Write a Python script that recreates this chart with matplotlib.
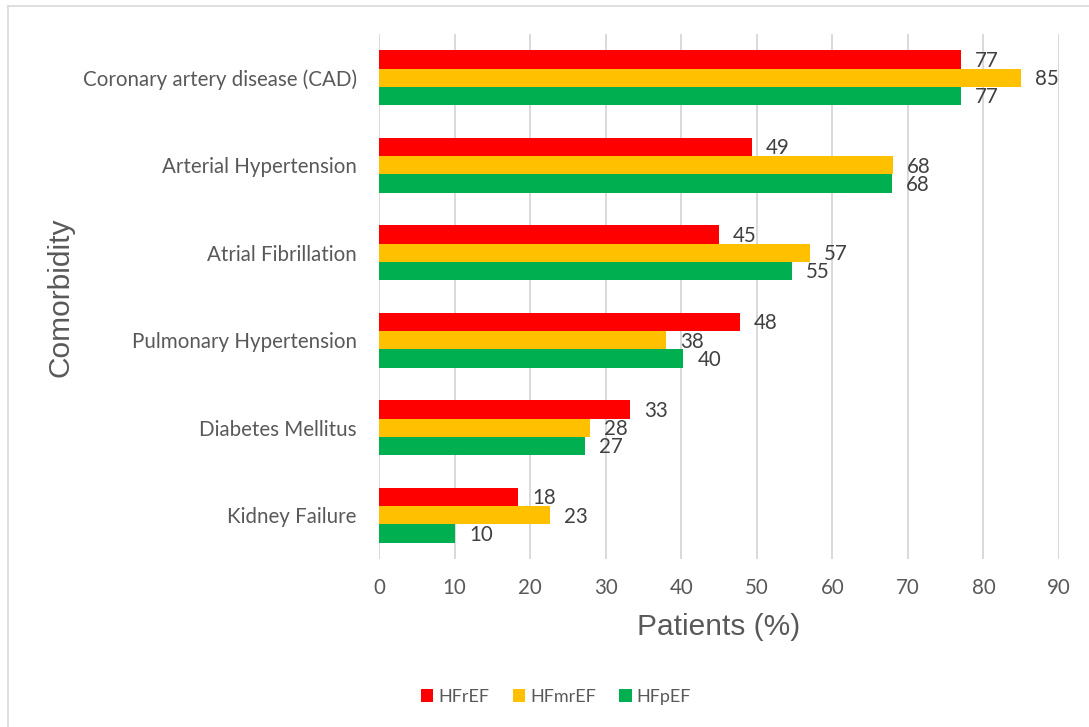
import numpy as np
import matplotlib
matplotlib.use("Agg")
import matplotlib.pyplot as plt
from matplotlib.lines import Line2D

categories = ["Coronary artery disease (CAD)", "Arterial Hypertension",
              "Atrial Fibrillation", "Pulmonary Hypertension",
              "Diabetes Mellitus", "Kidney Failure"]
series = ["HFrEF", "HFmrEF", "HFpEF"]
hfref = [77.0, 49.4, 45.0, 47.8, 33.2, 18.4]
hfmref = [85.0, 68.0, 57.0, 38.0, 27.9, 22.6]
hfpef = [77.0, 67.9, 54.6, 40.3, 27.3, 10.1]
colors = ["#FF0000", "#FFC000", "#00B050"]

plt.rcParams['font.family'] = ['Lato', 'DejaVu Sans']
fs = 14.8

fig = plt.figure(figsize=(10.89, 7.27), dpi=100)
ax = fig.add_axes([379/1089, 1-559/727, 680/1089, 525/727])

y = np.arange(len(categories))
h = 0.2077
for i, (vals, name, c) in enumerate(zip([hfref, hfmref, hfpef], series, colors)):
    pos = y + (i - 1) * h
    ax.barh(pos, vals, height=h, color=c, label=name, zorder=3)
    for p, v in zip(pos, vals):
        ax.annotate(f"{v:.0f}", (v, p), xytext=(10, -1), textcoords="offset points",
                    ha="left", va="center", fontsize=fs, color="#404040")

ax.set_xlim(0, 90)
ax.set_ylim(len(categories) - 0.5, -0.5)
ax.set_xticks(range(0, 91, 10))
ax.set_yticks(y)
ax.set_yticklabels(categories)
ax.tick_params(axis="both", length=0, labelsize=fs, labelcolor="#595959")
ax.tick_params(axis="y", pad=16)
ax.tick_params(axis="x", pad=14)
ax.grid(axis="x", color="#D9D9D9", lw=1.4, zorder=0)
for s in ax.spines.values():
    s.set_visible(False)

fig.text(719/1089, 1-627/727, "Patients (%)", ha="center", va="center",
         fontsize=21.5, color="#595959", family="Liberation Sans")
fig.text(60/1089, 1-297/727, "Comorbidity", ha="center", va="center", rotation=90,
         fontsize=21.5, color="#595959", family="Liberation Sans")

fig.legend(loc="center", bbox_to_anchor=(556/1089, 1-697/727), ncol=3, frameon=False,
           fontsize=13, labelcolor="#595959", handlelength=0.7, handleheight=0.7,
           handletextpad=0.28, columnspacing=1.28)

# chart area border (left and top edges visible)
fig.add_artist(Line2D([8/1089, 8/1089], [0, 1-6/727], color="#D9D9D9", lw=1.2))
fig.add_artist(Line2D([8/1089, 1], [1-6/727, 1-6/727], color="#D9D9D9", lw=1.2))

fig.savefig("out.png", dpi=100)
